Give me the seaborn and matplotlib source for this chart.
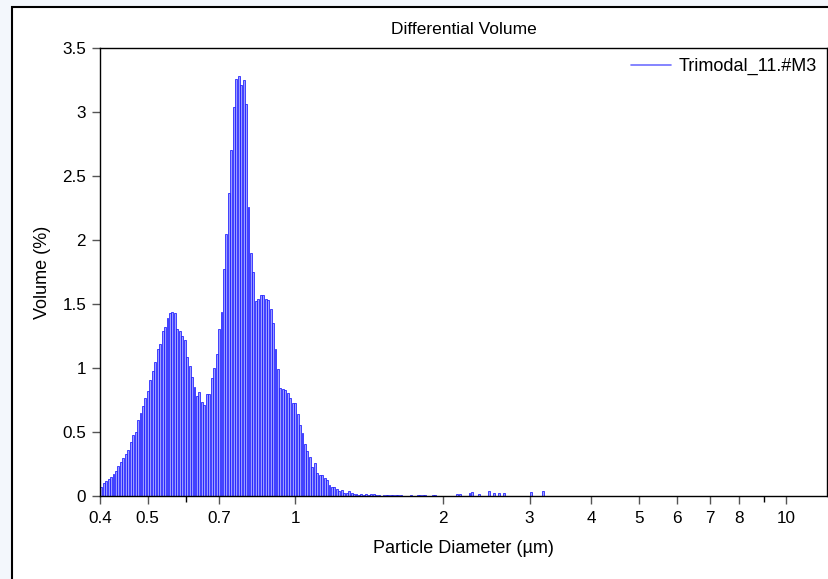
import numpy as np
import pandas as pd
import seaborn as sns
import matplotlib.pyplot as plt
from matplotlib.lines import Line2D
from matplotlib.patches import Rectangle

# log-spaced channels starting at 0.4 um, 0.005 decades wide
start_um = 0.4
step_dec = 0.005

volume_pct = [
    0.073, 0.099, 0.117, 0.133, 0.151, 0.169, 0.198, 0.237, 0.268, 0.299,
    0.328, 0.359, 0.419, 0.477, 0.497, 0.594, 0.646, 0.703, 0.763, 0.823,
    0.906, 0.977, 1.050, 1.146, 1.185, 1.289, 1.320, 1.388, 1.427, 1.438,
    1.427, 1.302, 1.292, 1.250, 1.219, 1.088, 1.018, 0.927, 0.854, 0.781,
    0.812, 0.732, 0.708, 0.797, 0.797, 0.924, 0.997, 1.107, 1.305, 1.440,
    1.770, 2.047, 2.365, 2.700, 3.040, 3.255, 3.280, 3.210, 3.250, 3.060,
    2.255, 1.896, 1.750, 1.520, 1.540, 1.570, 1.570, 1.540, 1.530, 1.460,
    1.350, 1.150, 0.990, 0.846, 0.838, 0.828, 0.807, 0.763, 0.724, 0.724,
    0.638, 0.552, 0.490, 0.410, 0.354, 0.307, 0.229, 0.260, 0.182, 0.164,
    0.164, 0.138, 0.125, 0.086, 0.068, 0.068, 0.052, 0.039, 0.047, 0.021,
    0.021, 0.039, 0.026, 0.016, 0.016, 0.010, 0.016, 0.010, 0.016, 0.010,
    0.016, 0.016, 0.010, 0.010, 0.000, 0.005, 0.005, 0.005, 0.005, 0.010,
    0.010, 0.010, 0.010, 0.000, 0.000, 0.000, 0.005, 0.000, 0.000, 0.005,
    0.005, 0.005, 0.005, 0.000, 0.000, 0.005, 0.005, 0.000, 0.000, 0.000,
    0.000, 0.000, 0.000, 0.000, 0.000, 0.013, 0.013, 0.000, 0.000, 0.000,
    0.020, 0.031, 0.000, 0.000, 0.013, 0.000, 0.000, 0.000, 0.036, 0.000,
    0.020, 0.000, 0.020, 0.000, 0.020, 0.000, 0.000, 0.000, 0.000, 0.000,
    0.000, 0.000, 0.000, 0.000, 0.000, 0.030, 0.000, 0.000, 0.000, 0.000,
    0.039,
]

x_ticks = [0.4, 0.5, 0.7, 1, 2, 3, 4, 5, 6, 7, 8, 10]
x_ticklabels = ["0.4", "0.5", "0.7", "1", "2", "3", "4", "5", "6", "7", "8", "10"]
x_minor = [0.6, 9]
y_ticks = [0, 0.5, 1, 1.5, 2, 2.5, 3, 3.5]
y_ticklabels = ["0", "0.5", "1", "1.5", "2", "2.5", "3", "3.5"]
sample_name = "Trimodal_11.#M3"

n = len(volume_pct)
log_edges = np.log10(start_um) + step_dec * np.arange(n + 1)
centers = 10 ** ((log_edges[:-1] + log_edges[1:]) / 2)
df = pd.DataFrame({"diam": centers, "vol": volume_pct})

sns.set_style("white")
plt.rcParams["font.family"] = ["Liberation Sans", "DejaVu Sans"]

fig = plt.figure(figsize=(8.29, 5.79), dpi=100, facecolor="#f3f7fc")
# white panel with black frame
fig.patches.append(Rectangle((12 / 829, -0.1), 1.0, 1 - 7 / 579 + 0.1,
                             transform=fig.transFigure, facecolor="white",
                             edgecolor="black", linewidth=1.5, zorder=-5))

ax = fig.add_axes([100 / 829, 1 - 496 / 579, 727 / 829, 448 / 579])
sns.histplot(data=df, x="diam", weights="vol", bins=list(log_edges),
             log_scale=True, element="bars", shrink=0.78, stat="count",
             facecolor=(0.55, 0.55, 1.0, 0.85), edgecolor="#1a1aff",
             linewidth=0.55, ax=ax)

for p in list(ax.patches):
    if p.get_height() <= 0:
        p.remove()

ax.set_xlim(0.4, 12.1)
ax.set_ylim(0, 3.5)
ax.set_xticks(x_ticks)
ax.set_xticklabels(x_ticklabels)
ax.set_xticks(x_minor, minor=True)
ax.set_xticklabels(["", ""], minor=True)
ax.set_yticks(y_ticks)
ax.set_yticklabels(y_ticklabels)
ax.tick_params(axis="both", which="major", direction="out", length=6,
               width=1, color="#555555", labelsize=12.3, pad=4,
               labelcolor="black", bottom=True, left=True)
ax.tick_params(axis="x", which="major", pad=5)
ax.tick_params(axis="x", which="minor", direction="out", length=4,
               width=1, color="black", bottom=True)
for s in ax.spines.values():
    s.set_color("black")
    s.set_linewidth(1)

ax.set_xlabel("Particle Diameter (\u00b5m)", fontsize=13, labelpad=10,
              color="black")
ax.set_ylabel("Volume (%)", fontsize=13, labelpad=8, color="black")
ax.set_title("Differential Volume", fontsize=12.5, pad=10, color="black")

handle = Line2D([0], [0], color="#7070ff", linewidth=1.2)
ax.legend([handle], [sample_name], loc="upper right", frameon=False,
          fontsize=13, handlelength=2.2, handletextpad=0.45,
          borderaxespad=0.15, labelcolor="black")

fig.savefig("out.png", dpi=100, facecolor=fig.get_facecolor())
